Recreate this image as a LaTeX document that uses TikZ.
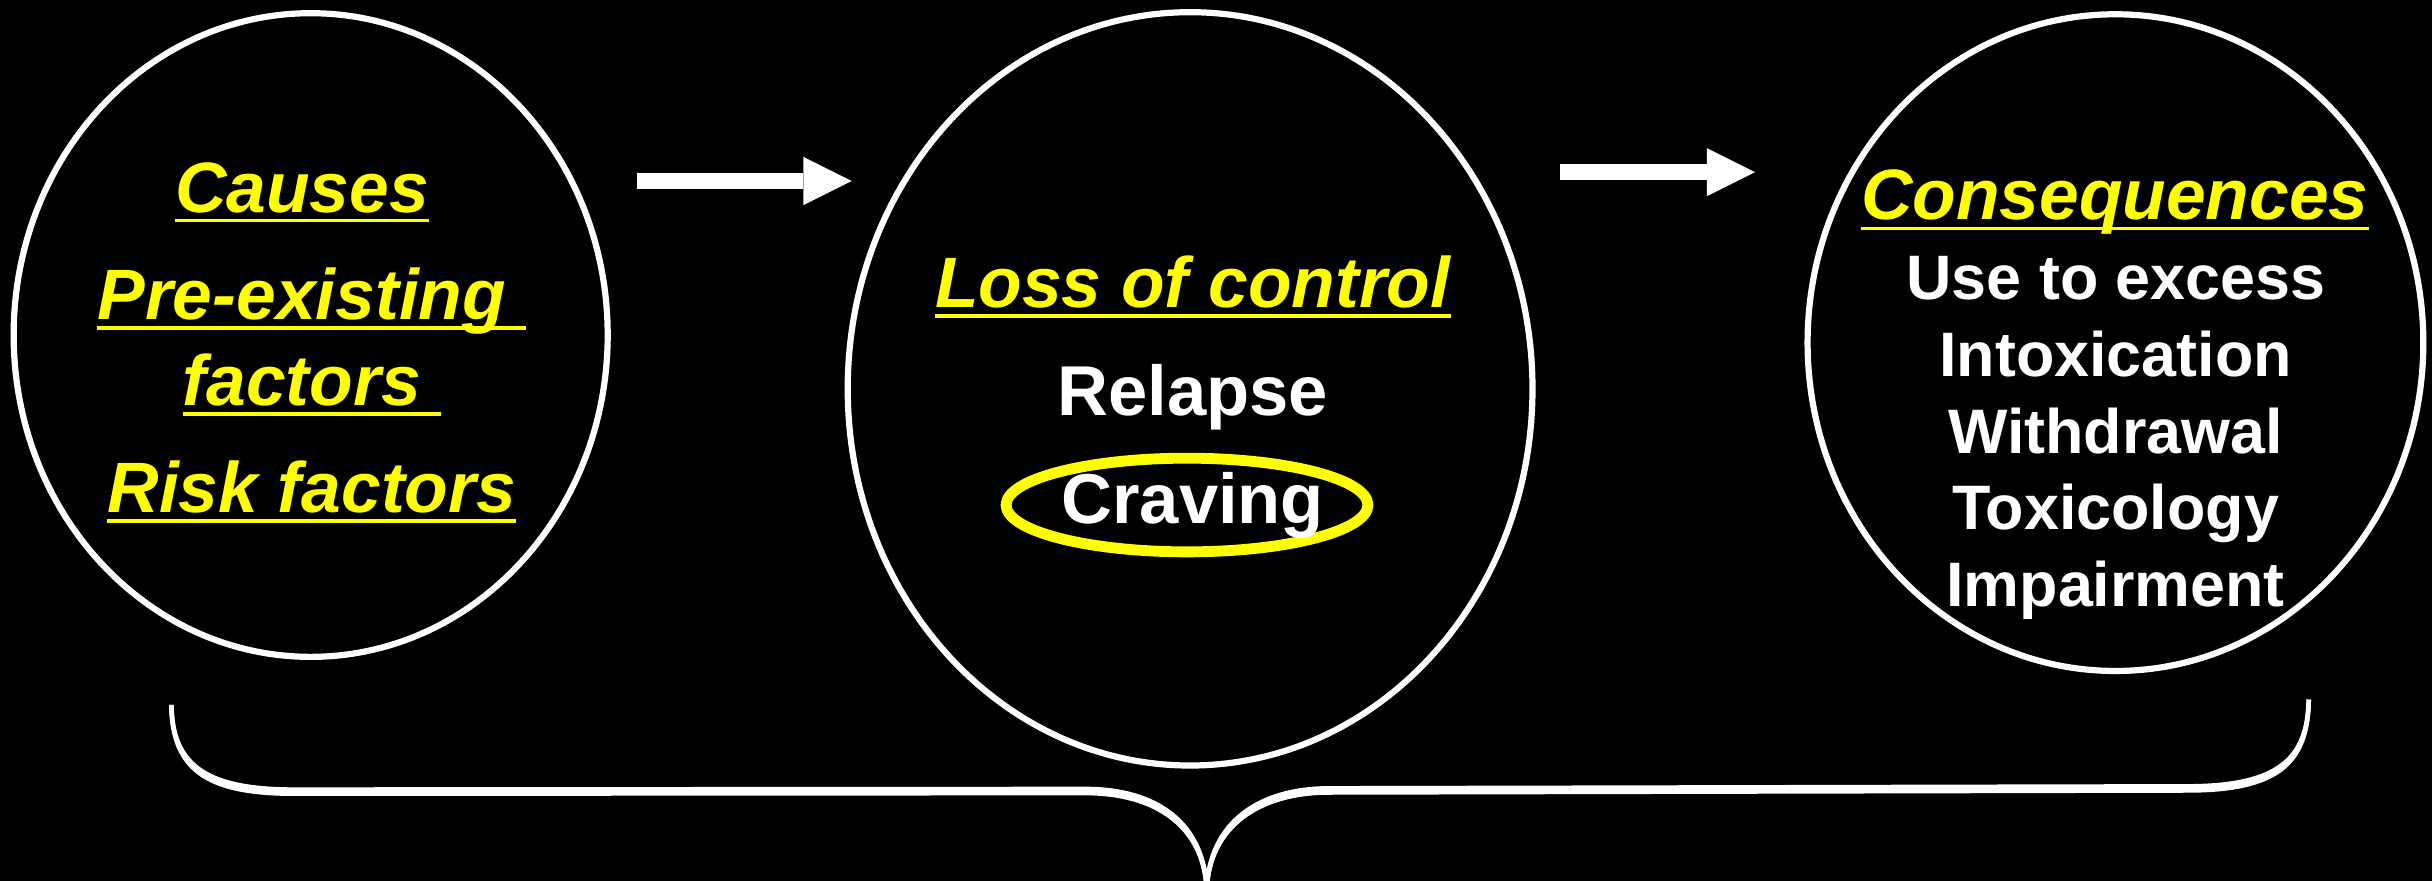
\documentclass[tikz,border=0pt]{standalone}
\usepackage{fontspec}
\setmainfont{Liberation Sans}
\usetikzlibrary{shapes.geometric,arrows.meta}
\definecolor{ylw}{RGB}{255,255,0}
\begin{document}
\begin{tikzpicture}[x=1pt,y=-1pt,
  ring/.style={draw=white, line width=4pt, ellipse, inner sep=0pt, outer sep=0pt},
  headtxt/.style={text=ylw, font=\fontsize{46}{50}\selectfont\bfseries\itshape, inner sep=0pt, anchor=base},
  midtxt/.style={text=white, font=\fontsize{45.5}{50}\selectfont\bfseries, inner sep=0pt, anchor=base},
  itemtxt/.style={text=white, font=\fontsize{40.5}{45}\selectfont\bfseries, inner sep=0pt, anchor=base},
  uline/.style={draw=ylw, line width=2.3pt},
  flow/.style={draw=white, line width=10.3pt, -{Triangle[length=31pt,width=31pt,line width=0pt]}},
  bracestroke/.style={draw=white, line width=3pt}
]
\useasboundingbox (0,0) rectangle (1568,568);
\fill[black] (0,0) rectangle (1568,568);

% ellipses
\node[ring, minimum width=383pt, minimum height=415pt] (e1) at (200.3,216) {};
\node[ring, minimum width=441.5pt, minimum height=485.7pt] (e2) at (767.3,250.7) {};
\node[ring, minimum width=397pt, minimum height=423.4pt] (e3) at (1363.9,220.9) {};

% left texts
\node[headtxt] (causes) at (194.7,136.7) {Causes};
\node[headtxt] (pre) at (201,205.8) {Pre-existing\kern0.278em};
\node[headtxt] (fac) at (201,261.4) {factors\kern0.278em};
\node[headtxt] (risk) at (201,330.5) {Risk factors};

% middle texts
\node[ellipse, draw=ylw, line width=7pt, inner sep=0pt, minimum width=233.3pt, minimum height=60.4pt] (crring) at (765.3,325.6) {};
\node[headtxt] (loss) at (769,198.2) {Loss of control};
\node[midtxt] (relapse) at (769,267.8) {Relapse};
\node[midtxt] (craving) at (769,337.4) {Craving};

% right texts
\node[headtxt] (cons) at (1363.5,141.8) {Consequences};
\node[itemtxt] (i1) at (1364.3,193.4) {Use to excess};
\node[itemtxt] (i2) at (1364,242.9) {Intoxication};
\node[itemtxt] (i3) at (1364,292.3) {Withdrawal};
\node[itemtxt] (i4) at (1364,341.7) {Toxicology};
\node[itemtxt] (i5) at (1364,391.1) {Impairment};

% underlines
\foreach \n in {causes,pre,fac,risk,loss,cons}
  \draw[uline] ([yshift=-5.5pt]\n.base west) -- ([yshift=-5.5pt]\n.base east);

% arrows
\coordinate (a1s) at (411,116.7);
\coordinate (a1e) at (549,116.7);
\coordinate (a2s) at (1005.8,111);
\coordinate (a2e) at (1131.5,111);
\draw[flow] (a1s) -- (a1e);
\draw[flow] (a2s) -- (a2e);

% brace
\coordinate (bl) at (110.5,454.5);
\coordinate (br) at (1488.5,451);
\coordinate (bt) at (778,574);
\foreach \s in {0,2.6}
  \draw[bracestroke, yshift=-\s pt] (bl) .. controls (111,495) and (135,509.1) .. (190,509.1)
    -- (700,508.7) .. controls (745,508.7) and (776.5,530) .. (bt)
    .. controls (779.5,530) and (812,508.3) .. (857,508.3)
    -- (1410,507) .. controls (1468,507) and (1488,490) .. (br);
\end{tikzpicture}
\end{document}
